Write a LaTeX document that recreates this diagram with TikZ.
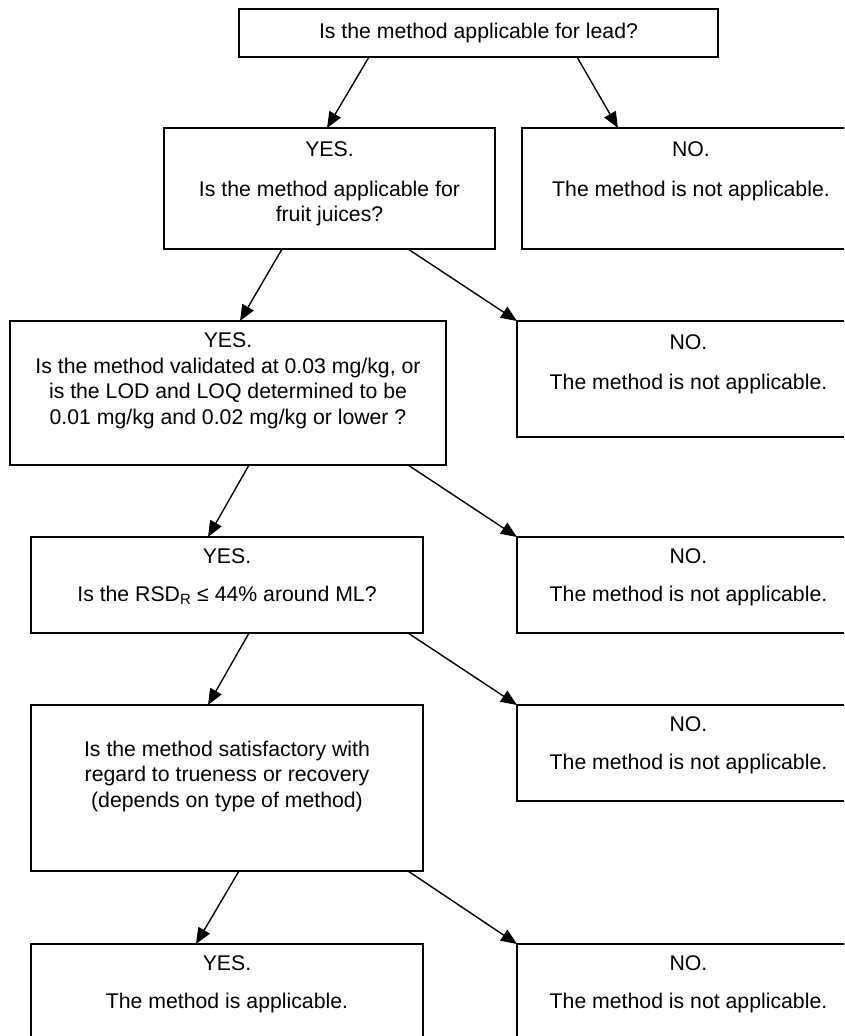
\documentclass[tikz,border=0pt]{standalone}
\usepackage{fontspec}
\setmainfont{Liberation Sans}
\usetikzlibrary{arrows.meta,calc}
\tikzset{
  box/.style={draw, line width=1.5pt, inner sep=0pt, outer sep=0pt, anchor=north west},
  arr/.style={line width=1.4pt, -{Triangle[length=16pt,width=13pt]}},
}
\newcommand{\bxt}[3]{\parbox[c][#2pt][t]{#1pt}{\centering #3}}
\begin{document}
\begin{tikzpicture}[x=1pt,y=-1pt,every node/.style={font=\fontsize{21.25}{25.5}\selectfont}]
\useasboundingbox (0,0) rectangle (844,1036);
\fill[white] (0,0) rectangle (844,1036);
\clip (0,0) rectangle (844,1036);
% top
\node[box] (top) at (239,9) {\parbox[c][48pt][c]{479pt}{\centering Is the method applicable for lead?}};
% level 1
\node[box] (y1) at (164,128) {\bxt{331}{121}{\vspace*{14pt}YES.\par\vspace{14pt}Is the method applicable for\\fruit juices?}};
\node[box] (n1) at (522,128) {\bxt{338}{121}{\vspace*{14pt}NO.\par\vspace{14pt}The method is not applicable.}};
% level 2
\node[box] (y2) at (10,321) {\bxt{436}{144}{\vspace*{12pt}YES.\\Is the method validated at 0.03 mg/kg, or\\is the LOD and LOQ determined to be\\0.01 mg/kg and 0.02 mg/kg or lower ?}};
\node[box] (n2) at (517,321) {\bxt{343}{116}{\vspace*{14pt}NO.\par\vspace{14pt}The method is not applicable.}};
% level 3
\node[box] (y3) at (31,537) {\bxt{392}{96}{\vspace*{12pt}YES.\par\vspace{12pt}Is the RSD\textsubscript{R} ≤ 44\% around ML?}};
\node[box] (n3) at (517,537) {\bxt{343}{96}{\vspace*{12pt}NO.\par\vspace{12pt}The method is not applicable.}};
% level 4
\node[box] (y4) at (31,705) {\bxt{392}{166}{\vspace*{36pt}Is the method satisfactory with\\regard to trueness or recovery\\(depends on type of method)}};
\node[box] (n4) at (517,705) {\bxt{343}{96}{\vspace*{12pt}NO.\par\vspace{12pt}The method is not applicable.}};
% level 5
\node[box] (y5) at (31,944) {\bxt{392}{110}{\vspace*{12pt}YES.\par\vspace{12pt}The method is applicable.}};
\node[box] (n5) at (517,944) {\bxt{343}{110}{\vspace*{12pt}NO.\par\vspace{12pt}The method is not applicable.}};
% arrows
\draw[arr] ([xshift=130pt]top.south west) -- ([xshift=163pt]y1.north west);
\draw[arr] ([xshift=338pt]top.south west) -- ([xshift=96pt]n1.north west);
\draw[arr] ([xshift=118pt]y1.south west) -- ([xshift=230pt]y2.north west);
\draw[arr] ([xshift=244pt]y1.south west) -- (n2.north west);
\draw[arr] ([xshift=239pt]y2.south west) -- ([xshift=177pt]y3.north west);
\draw[arr] ([xshift=398pt]y2.south west) -- (n3.north west);
\draw[arr] ([xshift=218pt]y3.south west) -- ([xshift=177pt]y4.north west);
\draw[arr] ([xshift=377pt]y3.south west) -- (n4.north west);
\draw[arr] ([xshift=208pt]y4.south west) -- ([xshift=165pt]y5.north west);
\draw[arr] ([xshift=377pt]y4.south west) -- (n5.north west);
\end{tikzpicture}
\end{document}
